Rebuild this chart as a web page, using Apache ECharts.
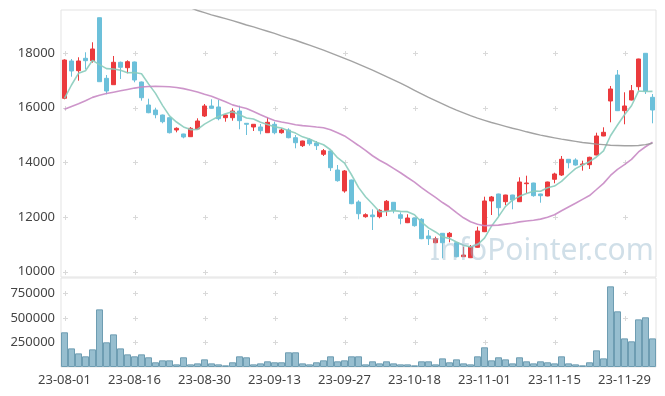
<!DOCTYPE html>
<html><head><meta charset="utf-8">
<script src="https://cdn.jsdelivr.net/npm/echarts@6/dist/echarts.min.js"></script>
<style>html,body{margin:0;padding:0;background:#fff}#c{width:665px;height:396px}</style>
</head><body><div id="c"></div>
<script>
const dates = ['23-08-01','23-08-02','23-08-03','23-08-04','23-08-07','23-08-08','23-08-09','23-08-10','23-08-11','23-08-14',
'23-08-16','23-08-17','23-08-18','23-08-21','23-08-22','23-08-23','23-08-24','23-08-25','23-08-28','23-08-29',
'23-08-30','23-08-31','23-09-01','23-09-04','23-09-05','23-09-06','23-09-07','23-09-08','23-09-11','23-09-12',
'23-09-13','23-09-14','23-09-15','23-09-18','23-09-19','23-09-20','23-09-21','23-09-22','23-09-25','23-09-26',
'23-09-27','23-10-04','23-10-05','23-10-06','23-10-10','23-10-11','23-10-12','23-10-13','23-10-16','23-10-17',
'23-10-18','23-10-19','23-10-20','23-10-23','23-10-24','23-10-25','23-10-26','23-10-27','23-10-30','23-10-31',
'23-11-01','23-11-02','23-11-03','23-11-06','23-11-07','23-11-08','23-11-09','23-11-10','23-11-13','23-11-14',
'23-11-15','23-11-16','23-11-17','23-11-20','23-11-21','23-11-22','23-11-23','23-11-24','23-11-27','23-11-28',
'23-11-29','23-11-30','23-12-01','23-12-04','23-12-05'];

const openP = [16346,17712,17357,17810,17723,19296,17078,16844,17664,17466,
17675,16943,16101,15918,15735,15636,15186,15040,14941,15223,
15699,16065,16028,15636,15636,15881,15431,15296,15296,15087,
15395,15087,15186,14904,14612,14831,14710,14297,14418,13722,
12954,13356,12551,12013,12075,12013,12233,12540,12086,11793,
11965,11918,11307,11061,11405,11281,11061,10549,10512,10893,
11464,12588,12844,12562,12807,12562,13221,13246,12844,12771,
13382,13539,14114,14088,13916,13916,14271,14967,16248,17199,
15893,16284,16771,17993,16383];

const closeP = [17748,17346,17712,17723,18151,16954,16614,17664,17481,17686,
17016,16368,15819,15746,15490,15087,15248,14930,15248,15515,
16065,15980,15600,15735,15881,15527,15395,15395,15161,15468,
15087,15186,14904,14721,14784,14685,14612,14429,13806,13331,
13686,12489,12123,12086,12013,12247,12577,12247,11954,11965,
11684,11208,11208,11208,11061,11405,10549,10611,10915,11490,
12588,12734,12342,12807,12624,13283,13246,12782,12782,13283,
13576,14114,13989,13905,13942,14187,14967,15102,16687,15893,
16065,16625,17785,16614,15918];

const lowP = [16310,17137,16991,17408,17649,16954,16493,16844,17053,17261,
16932,16259,15800,15614,15431,15060,15102,14882,14930,15210,
15662,15970,15541,15490,15527,15212,15003,15150,15029,15080,
15029,15051,14882,14516,14564,14612,14454,14235,13686,13294,
12891,12470,11918,11976,11526,11954,12039,12137,11735,11780,
11647,11190,10977,11039,10490,11076,10527,10540,10500,10880,
11450,12075,12013,12441,12284,12550,12869,12745,12525,12760,
13235,13503,13784,13880,13697,13759,14260,14960,15468,15880,
15395,16270,16625,16504,15431];

const highP = [17774,17785,17847,18030,18396,19296,17199,17895,17690,17737,
17690,16960,16332,16002,15750,15650,15285,15050,15296,15614,
16138,16310,16284,15745,15980,16076,15440,15405,15406,15651,
15490,15248,15248,15003,14795,14882,14784,14491,14430,13905,
13722,13370,12613,12137,12284,12284,12624,12550,12174,12101,
11975,11960,11526,11281,11415,11453,11070,10915,10977,11647,
12745,12771,12855,12815,12815,13455,13514,13255,12855,13294,
13623,14235,14125,14150,14063,14209,15087,15285,16797,17382,
16566,16833,17795,18000,16504];

const volume = [354000,190000,139000,109000,180000,588000,252000,333000,190000,129000,
109000,129000,99000,48000,68000,68000,27000,99000,27000,37000,
78000,37000,27000,17000,48000,109000,99000,27000,37000,58000,
48000,48000,150000,150000,37000,27000,48000,68000,109000,58000,
68000,109000,109000,27000,58000,37000,58000,37000,27000,27000,
17000,58000,58000,27000,88000,48000,78000,37000,27000,109000,
201000,68000,99000,78000,37000,99000,58000,37000,58000,48000,
37000,109000,37000,27000,17000,48000,170000,88000,823000,568000,
292000,262000,486000,507000,292000];

const ma5 = [16346,16833,17261,17357,17736,17577,17431,17421,17373,17280,
17292,17243,16874,16527,16088,15702,15478,15300,15201,15206,
15401,15548,15682,15779,15852,15745,15628,15587,15472,15389,
15301,15259,15161,15073,14936,14856,14741,14646,14463,14173,
13973,13548,13087,12743,12479,12192,12209,12234,12208,12198,
12085,11812,11604,11455,11274,11218,11086,10967,10908,10994,
11231,11668,12014,12392,12619,12758,12860,12948,12943,13075,
13134,13307,13549,13773,13905,14027,14198,14421,14977,15367,
15743,16074,16611,16596,16601];

const ma20 = [15944,16050,16150,16260,16380,16460,16520,16570,16620,16670,
16720,16760,16780,16790,16780,16770,16740,16700,16640,16577,
16493,16425,16319,16220,16106,16035,15974,15861,15745,15634,
15537,15478,15432,15381,15346,15326,15294,15269,15197,15088,
14969,14794,14620,14438,14244,14080,13940,13782,13622,13447,
13276,13078,12893,12717,12531,12367,12164,11973,11828,11736,
11681,11694,11705,11741,11771,11823,11856,11883,11925,11991,
12085,12230,12369,12504,12648,12787,13008,13233,13522,13742,
13916,14110,14382,14573,14737];

const ma120 = ['-','-','-','-','-','-','-','-','-','-',
'-','-','-','-','-','-','-',19760,19660,19560,
19480,19400,19330,19260,19190,19110,19030,18960,18880,18800,
18720,18630,18550,18470,18380,18290,18200,18110,18010,17910,
17810,17710,17600,17490,17380,17260,17140,17020,16900,16770,
16640,16510,16380,16260,16140,16020,15910,15810,15710,15620,
15540,15460,15390,15320,15250,15190,15120,15060,15000,14950,
14900,14850,14810,14770,14730,14700,14670,14650,14630,14620,
14610,14610,14620,14650,14700];

const priceTicks = [10000,12000,14000,16000,18000];
const volTicks = [250000,500000,750000];
const labelIdx = [0,10,20,30,40,50,60,70,80];

const FONT = 'Noto Sans';
const candleData = openP.map((o,i)=>[o, closeP[i], lowP[i], highP[i]]);
const crossPrice = [], crossVol = [];
labelIdx.forEach(ix=>{
  priceTicks.forEach(v=>crossPrice.push([ix, v]));
  volTicks.forEach(v=>crossVol.push([ix, v]));
});
function crossRender(params, api){
  const p = api.coord([api.value(0), api.value(1)]);
  const x = Math.round(p[0]) + 0.5, y = Math.round(p[1]) + 0.5;
  const st = {stroke:'#d9d9d9', lineWidth:1};
  return {type:'group', children:[
    {type:'line', shape:{x1:x-2.5,y1:y,x2:x+2.5,y2:y}, style:st},
    {type:'line', shape:{x1:x,y1:y-2.5,x2:x,y2:y+2.5}, style:st}
  ]};
}
const plain = v => String(v);

const chart = echarts.init(document.getElementById('c'));
chart.setOption({
  animation:false,
  backgroundColor:'#ffffff',
  grid:[
    {left:61, top:10, width:595, height:267, show:true, borderColor:'#e3e3e3', borderWidth:1},
    {left:61, top:278, width:595, height:89, show:true, borderColor:'#e3e3e3', borderWidth:1}
  ],
  xAxis:[
    {type:'category', gridIndex:0, data:dates, boundaryGap:true,
     axisLine:{show:false}, axisTick:{show:false}, axisLabel:{show:false}, splitLine:{show:false}},
    {type:'category', gridIndex:1, data:dates, boundaryGap:true,
     axisLine:{show:false}, axisTick:{show:false}, splitLine:{show:false},
     axisLabel:{interval:9, fontSize:13, color:'#444', margin:7, fontFamily:FONT}}
  ],
  yAxis:[
    {type:'value', gridIndex:0, min:9806, max:19578, splitNumber:5,
     axisLine:{show:false}, axisTick:{show:false}, splitLine:{show:false},
     axisLabel:{formatter:plain, showMinLabel:false, showMaxLabel:false, fontSize:13, color:'#444', margin:6, fontFamily:FONT}},
    {type:'value', gridIndex:1, min:0, max:908000, interval:250000,
     axisLine:{show:false}, axisTick:{show:false}, splitLine:{show:false},
     axisLabel:{formatter:plain, showMinLabel:false, showMaxLabel:false, fontSize:13, color:'#444', margin:6, fontFamily:FONT}}
  ],
  series:[
    {type:'custom', xAxisIndex:0, yAxisIndex:0, data:crossPrice, renderItem:crossRender, silent:true, z:1},
    {type:'custom', xAxisIndex:1, yAxisIndex:1, data:crossVol, renderItem:crossRender, silent:true, z:1},
    {type:'candlestick', xAxisIndex:0, yAxisIndex:0, data:candleData, barWidth:5,
     itemStyle:{color:'#EB3A3D', color0:'#6CC0DA', borderColor:'#EB3A3D', borderColor0:'#6CC0DA', borderWidth:1}, z:2},
    {type:'line', xAxisIndex:0, yAxisIndex:0, data:ma5, symbol:'none', smooth:false,
     lineStyle:{color:'#8ACCBD', width:1.6, opacity:0.9}, z:3},
    {type:'line', xAxisIndex:0, yAxisIndex:0, data:ma20, symbol:'none',
     lineStyle:{color:'#C88AC4', width:1.6, opacity:0.9}, z:3},
    {type:'line', xAxisIndex:0, yAxisIndex:0, data:ma120, symbol:'none', clip:true,
     lineStyle:{color:'#999999', width:1.4, opacity:0.9}, z:3},
    {type:'bar', xAxisIndex:1, yAxisIndex:1, data:volume, barCategoryGap:'0%',
     itemStyle:{color:'#97BECF', borderColor:'#6E9DB2', borderWidth:1}, z:2}
  ],
  graphic:[
    {type:'text', left:430, top:236, z:100, silent:true,
     style:{text:'InfoPointer.com', font:'30px "Noto Sans"', fill:'rgba(150,185,205,0.45)'}}
  ]
});
</script></body></html>
